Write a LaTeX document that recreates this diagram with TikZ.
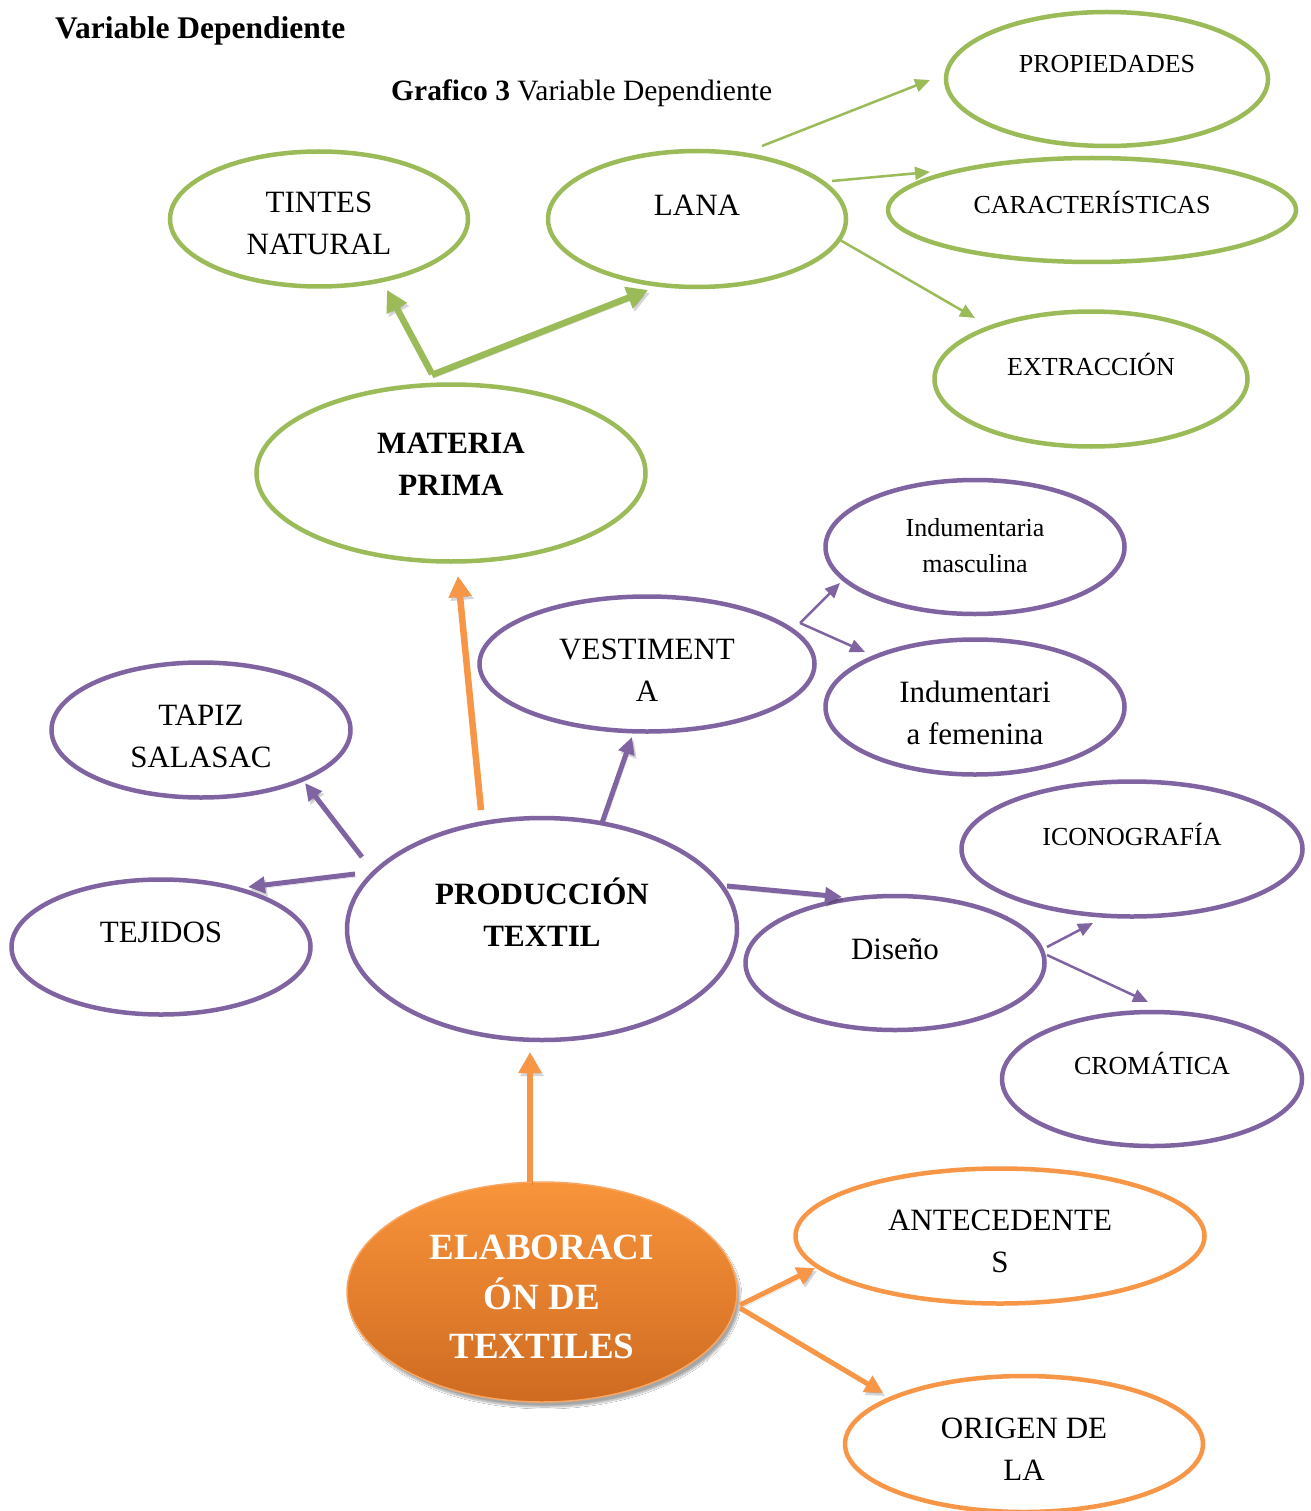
\documentclass[tikz,border=0pt]{standalone}
\usepackage{fontspec}
\setmainfont{Liberation Serif}
\usetikzlibrary{arrows.meta,shapes.geometric,shadows.blur}
\definecolor{leaf}{HTML}{9BBB59}
\definecolor{plum}{HTML}{8064A2}
\definecolor{amber}{HTML}{F79646}
\definecolor{amberTop}{HTML}{F8943A}
\definecolor{amberBot}{HTML}{CF6B21}

\tikzset{
  oval/.style={ellipse, draw, line width=4.5pt, inner sep=0pt},
  lbl/.style={align=center, inner sep=0pt, font=\fontsize{31}{42}\selectfont},
  lblsm/.style={align=center, inner sep=0pt, font=\fontsize{26}{36}\selectfont},
  lblbf/.style={align=center, inner sep=0pt, font=\fontsize{31}{42}\selectfont\bfseries},
  soft/.style={preaction={draw=black, opacity=0.16,
      transform canvas={xshift=2pt,yshift=-3pt}}},
  thin/.style={line width=2.5pt, -{Triangle[length=15pt,width=13pt]}},
  bold/.style={line width=5pt, soft, -{Triangle[length=17pt,width=16pt]}},
  heavy/.style={line width=6.5pt, soft, -{Triangle[length=21pt,width=22pt]}},
}

\begin{document}
\begin{tikzpicture}[x=1pt,y=-1pt]
\fill[white] (0,0) rectangle (1310,1511);
\useasboundingbox (0,0) rectangle (1310,1511);

% headings
\node[anchor=west, inner sep=0pt, font=\fontsize{31.5}{36}\selectfont\bfseries] (head) at (55,31) {Variable Dependiente};
\node[anchor=west, inner sep=0pt, font=\fontsize{29.5}{34}\selectfont] (cap) at (391,93) {\textbf{Grafico 3} Variable Dependiente};

% raw material branch (green)
\node[oval, draw=leaf, minimum width=322, minimum height=134] (prop) at (1107,79) {};
\node[oval, draw=leaf, minimum width=298, minimum height=135] (tint) at (319,219) {};
\node[oval, draw=leaf, minimum width=298, minimum height=136] (lana) at (697,219) {};
\node[oval, draw=leaf, minimum width=408, minimum height=104] (car) at (1092,210) {};
\node[oval, draw=leaf, minimum width=313, minimum height=135] (ext) at (1091,379) {};
\node[oval, draw=leaf, minimum width=389, minimum height=177] (mp) at (451,473) {};

\node[lblsm] (propT) at (1107,64) {PROPIEDADES};
\node[lbl] (tintT) at (319,223) {TINTES\\NATURAL};
\node[lbl] (lanaT) at (697,205) {LANA};
\node[lblsm] (carT) at (1092,202) {CARACTERÍSTICAS};
\node[lblsm] (extT) at (1091,364) {EXTRACCIÓN};
\node[lblbf] (mpT) at (451,464) {MATERIA\\PRIMA};

% textile production branch (purple)
\node[oval, draw=plum, minimum width=299, minimum height=134] (masc) at (975,547) {};
\node[oval, draw=plum, minimum width=335, minimum height=135] (vest) at (647,664) {};
\node[oval, draw=plum, minimum width=299, minimum height=135] (fem) at (975,707) {};
\node[oval, draw=plum, minimum width=299, minimum height=135] (tapiz) at (201,730) {};
\node[oval, draw=plum, minimum width=341, minimum height=135] (icon) at (1132,849) {};
\node[oval, draw=plum, minimum width=299, minimum height=135] (tej) at (161,947) {};
\node[oval, draw=plum, minimum width=390, minimum height=222] (prod) at (542,929) {};
\node[oval, draw=plum, minimum width=299, minimum height=134] (dis) at (895,963) {};
\node[oval, draw=plum, minimum width=300, minimum height=134] (crom) at (1152,1079) {};

\node[lblsm] (mascT) at (975,546) {Indumentaria\\masculina};
\node[lbl] (vestT) at (647,670) {VESTIMENT\\A};
\node[lbl] (femT) at (975,713) {Indumentari\\a femenina};
\node[lbl] (tapizT) at (201,736) {TAPIZ\\SALASAC};
\node[lblsm] (iconT) at (1132,834) {ICONOGRAFÍA};
\node[lbl] (tejT) at (161,932) {TEJIDOS};
\node[lblbf] (prodT) at (542,912) {PRODUCCIÓN\\TEXTIL};
\node[lbl] (disT) at (895,949) {Diseño};
\node[lblsm] (cromT) at (1152,1063) {CROMÁTICA};

% origins branch (orange)
\node[ellipse, minimum width=390, minimum height=220, inner sep=0pt,
      top color=amberTop, bottom color=amberBot, draw=amber!85!white, line width=1.5pt,
      blur shadow={shadow xshift=3pt, shadow yshift=-5pt, shadow blur steps=10, shadow opacity=35}]
      (elab) at (542,1292) {};
\node[align=center, inner sep=0pt, text=white, font=\fontsize{37}{49.5}\selectfont\bfseries]
      (elabT) at (542,1297) {ELABORACI\\ÓN DE\\TEXTILES};
\node[oval, draw=amber, minimum width=409, minimum height=135] (ant) at (1000,1236) {};
\node[oval, draw=amber, minimum width=358, minimum height=136] (orig) at (1024,1444) {};

\node[lbl] (antT) at (1000,1241) {ANTECEDENTE\\S};
\node[lbl] (origT) at (1024,1449) {ORIGEN DE\\LA};

% green connectors
\draw[leaf, thin] ([shift={(65,-73)}]lana.center) -- ([shift={(-177,1)}]prop.center);
\draw[leaf, thin] ([shift={(135,-38)}]lana.center) -- ([shift={(-162,-38)}]car.center);
\draw[leaf, thin] ([shift={(143,21)}]lana.center) -- ([shift={(-116,-61)}]ext.center);
\draw[leaf, heavy] ([shift={(-19,-99)}]mp.center) -- ([shift={(68,71)}]tint.center);
\draw[leaf, heavy] ([shift={(-19,-98)}]mp.center) -- ([shift={(-49,71)}]lana.center);

% purple connectors
\draw[plum, bold] ([shift={(60,-106)}]prod.center) -- ([shift={(-15,73)}]vest.center);
\draw[plum, bold] ([shift={(-180,-72)}]prod.center) -- ([shift={(104,53)}]tapiz.center);
\draw[plum, bold] ([shift={(-187,-55)}]prod.center) -- ([shift={(87,-60)}]tej.center);
\draw[plum, bold] ([shift={(185,-43)}]prod.center) -- ([shift={(-53,-66)}]dis.center);
\draw[plum, thin] ([shift={(153,-41)}]vest.center) -- ([shift={(-135,36)}]masc.center);
\draw[plum, thin] ([shift={(153,-41)}]vest.center) -- ([shift={(-110,-55)}]fem.center);
\draw[plum, thin] ([shift={(152,-16)}]dis.center) -- ([shift={(-39,74)}]icon.center);
\draw[plum, thin] ([shift={(152,-8)}]dis.center) -- ([shift={(-4,-77)}]crom.center);

% orange connectors
\draw[amber, heavy] ([shift={(-12,-110)}]elab.center) -- ([shift={(-12,123)}]prod.center);
\draw[amber, heavy] ([shift={(-61,-119)}]prod.center) -- ([shift={(7,103)}]mp.center);
\draw[amber, line width=5pt, soft, -{Triangle[length=18pt,width=18pt]}]
      ([shift={(198,13)}]elab.center) -- ([shift={(-185,32)}]ant.center);
\draw[amber, line width=5pt, soft, -{Triangle[length=18pt,width=18pt]}]
      ([shift={(198,16)}]elab.center) -- ([shift={(-141,-51)}]orig.center);
\end{tikzpicture}
\end{document}
